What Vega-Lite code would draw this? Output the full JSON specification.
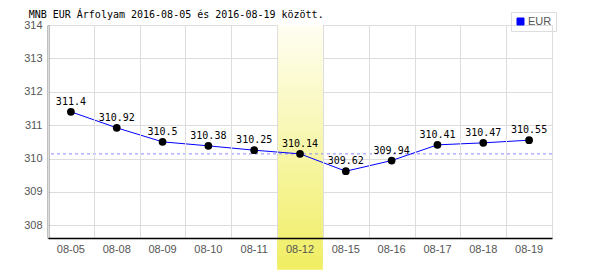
{
  "$schema": "https://vega.github.io/schema/vega-lite/v6.json",
  "width": 504,
  "height": 213,
  "autosize": {"type": "none"},
  "padding": {"left": 48, "top": 25, "right": 48, "bottom": 32},
  "background": "white",
  "title": {
    "text": "MNB EUR Árfolyam 2016-08-05 és 2016-08-19 között.",
    "anchor": "start",
    "orient": "top",
    "dx": 5,
    "offset": -8,
    "font": "DejaVu Sans Mono",
    "fontSize": 10,
    "fontWeight": "normal",
    "color": "#000000"
  },
  "config": {
    "view": {"stroke": null},
    "axis": {"labelFont": "Liberation Sans", "labelFontSize": 11, "labelColor": "#555555", "gridColor": "#dddddd", "gridWidth": 1, "domainColor": "#000000", "domainWidth": 1.5, "ticks": false, "title": null, "labelOverlap": false, "labelFlush": false}
  },
  "resolve": {"axis": {"x": "independent"}},
  "datasets": {
    "rates": [
      {"d": "08-05", "v": 311.4, "s": "EUR"},
      {"d": "08-08", "v": 310.92, "s": "EUR"},
      {"d": "08-09", "v": 310.5, "s": "EUR"},
      {"d": "08-10", "v": 310.38, "s": "EUR"},
      {"d": "08-11", "v": 310.25, "s": "EUR"},
      {"d": "08-12", "v": 310.14, "s": "EUR"},
      {"d": "08-15", "v": 309.62, "s": "EUR"},
      {"d": "08-16", "v": 309.94, "s": "EUR"},
      {"d": "08-17", "v": 310.41, "s": "EUR"},
      {"d": "08-18", "v": 310.47, "s": "EUR"},
      {"d": "08-19", "v": 310.55, "s": "EUR"}
    ],
    "highlight": [{"d": "08-12", "top": 314, "bottom": 306.67}],
    "ref": [{"v": 310.14}]
  },
  "layer": [
    {
      "data": {"name": "highlight"},
      "mark": {
        "type": "rect",
        "clip": false,
        "fill": {"gradient": "linear", "x1": 0, "y1": 0, "x2": 0, "y2": 1, "stops": [{"offset": 0, "color": "#fffef2"}, {"offset": 1, "color": "#f0ee62"}]}
      },
      "encoding": {
        "x": {
          "field": "d", "type": "ordinal",
          "scale": {"type": "band", "paddingInner": 0, "paddingOuter": 0},
          "axis": {"orient": "bottom", "labels": false, "domain": false, "ticks": false, "grid": true, "tickBand": "extent"}
        },
        "y": {
          "field": "top", "type": "quantitative",
          "scale": {"domain": [307.62, 314], "nice": false, "zero": false},
          "axis": {"values": [308, 309, 310, 311, 312, 313, 314], "labelPadding": 6, "grid": true}
        },
        "y2": {"field": "bottom"}
      }
    },
    {
      "data": {"name": "ref"},
      "mark": {"type": "rule", "color": "#8888ff", "strokeDash": [3, 3], "strokeWidth": 1},
      "encoding": {"y": {"field": "v", "type": "quantitative", "axis": {"values": [308, 309, 310, 311, 312, 313, 314], "labelPadding": 6, "grid": true}}}
    },
    {
      "data": {"name": "rates"},
      "mark": {"type": "line", "strokeWidth": 1},
      "encoding": {
        "x": {
          "field": "d", "type": "ordinal",
          "axis": {"orient": "bottom", "labelAngle": 0, "grid": false, "labelPadding": 5, "zindex": 1}
        },
        "y": {
          "field": "v", "type": "quantitative",
          "axis": {"values": [308, 309, 310, 311, 312, 313, 314], "labelPadding": 6, "grid": true}
        },
        "color": {
          "field": "s", "type": "nominal",
          "scale": {"range": ["#0000ff"]},
          "legend": {
            "title": null,
            "orient": "none",
            "legendX": 463,
            "legendY": -13,
            "symbolType": "square",
            "symbolSize": 49,
            "labelFont": "Liberation Sans",
            "labelFontSize": 11,
            "labelColor": "#555555",
            "strokeColor": "#dddddd",
            "padding": 4,
            "labelOffset": 2,
            "encode": {"symbols": {"update": {"fill": {"value": "#0000ff"}, "stroke": {"value": "#333333"}, "strokeWidth": {"value": 1}}}}
          }
        }
      }
    },
    {
      "data": {"name": "rates"},
      "mark": {"type": "point", "filled": true, "color": "#000000", "size": 60, "opacity": 1},
      "encoding": {
        "x": {"field": "d", "type": "ordinal", "axis": null},
        "y": {"field": "v", "type": "quantitative", "axis": {"values": [308, 309, 310, 311, 312, 313, 314], "labelPadding": 6, "grid": true}}
      }
    },
    {
      "data": {"name": "rates"},
      "mark": {"type": "text", "font": "DejaVu Sans Mono", "fontSize": 10, "color": "#000000", "baseline": "alphabetic", "dy": -7},
      "encoding": {
        "x": {"field": "d", "type": "ordinal", "axis": null},
        "y": {"field": "v", "type": "quantitative", "axis": {"values": [308, 309, 310, 311, 312, 313, 314], "labelPadding": 6, "grid": true}},
        "text": {"field": "v", "type": "quantitative"}
      }
    }
  ]
}
